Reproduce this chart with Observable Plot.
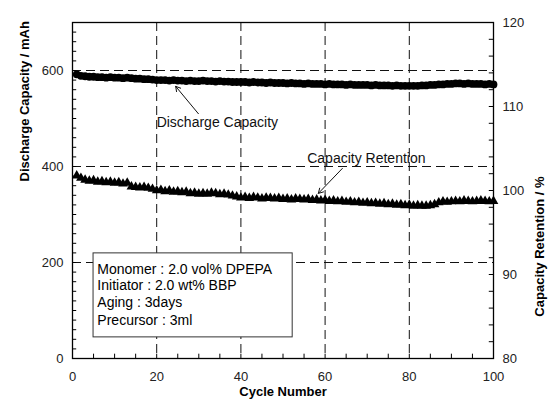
<!DOCTYPE html>
<html><head><meta charset="utf-8">
<script src="https://cdn.jsdelivr.net/npm/d3@7"></script>
<script src="https://cdn.jsdelivr.net/npm/@observablehq/plot@0.6"></script>
<style>
body{margin:0;background:#fff;}
#chart svg{font-family:"Liberation Sans",Arial,sans-serif;}
</style>
</head><body><div id="chart"></div>
<script>
// Cycle numbers 1..100
const cycles = d3.range(1, 101);

// Discharge capacity (mAh), left axis
const discharge = [
  592,589,588,587,587,586,586,585,586,585,
  585,584,585,584,583,583,582,582,581,580,
  580,580,579,580,579,579,578,579,578,578,
  579,578,578,577,578,577,577,576,576,576,
  576,575,576,575,575,574,575,574,574,574,
  573,574,573,573,572,573,572,572,572,571,
  572,571,571,571,570,571,570,570,570,570,
  569,570,569,569,569,568,569,568,568,568,
  568,568,569,569,570,570,571,571,572,572,
  573,573,572,573,572,572,572,571,572,571
];

// Capacity retention (%), right axis
const retention = [
  101.77,101.49,101.26,101.14,101.20,101.03,101.09,100.97,101.03,100.91,
  100.97,100.80,100.91,100.46,100.40,100.34,100.40,100.29,100.17,100.00,
  100.06,99.89,100.00,99.83,99.89,99.77,99.83,99.66,99.71,99.60,
  99.66,99.60,99.71,99.66,99.54,99.60,99.49,99.37,99.26,99.14,
  99.20,99.09,99.20,99.14,99.03,99.14,99.09,99.03,99.09,98.97,
  99.03,98.91,99.03,98.97,98.91,98.97,98.86,98.91,98.80,98.86,
  98.74,98.80,98.69,98.74,98.63,98.69,98.57,98.63,98.51,98.57,
  98.46,98.51,98.40,98.46,98.34,98.40,98.29,98.34,98.23,98.29,
  98.17,98.23,98.17,98.17,98.23,98.34,98.57,98.69,98.63,98.69,
  98.74,98.69,98.80,98.74,98.69,98.74,98.80,98.74,98.69,98.74
];

// Axis ticks
const xLabelTicks = [0, 20, 40, 60, 80, 100];
const xMinorTicks = d3.range(0, 101, 5);
const leftLabelTicks = [0, 200, 400, 600];
const leftMinorTicks = d3.range(0, 701, 20);
const rightLabelTicks = [80, 90, 100, 110, 120];
const rightMinorTicks = d3.range(80, 121, 2);
const xGrid = [20, 40, 60, 80];
const yGrid = [200, 400, 600];

// Info box
const infoLines = [
  "Monomer : 2.0 vol% DPEPA",
  "Initiator : 2.0 wt% BBP",
  "Aging : 3days",
  "Precursor : 3ml"
];
const infoLineY = [185, 152, 117, 79];
const infoBox = {x1: 5.0, x2: 52.3, y1: 44, y2: 219};

// Annotations
const annotations = [
  {label: "Discharge Capacity", tx: 34.4, ty: 492, ax1: 29.9, ay1: 510, ax2: 24.5, ay2: 567},
  {label: "Capacity Retention", tx: 69.8, ty: 417, ax1: 64.1, ay1: 396, ax2: 58.4, ay2: 344}
];

// Secondary scale mapping (right 80..120 <-> left 0..700)
const LMAX = 700, RMIN = 80, RMAX = 120;
const toLeft = v => (v - RMIN) / (RMAX - RMIN) * LMAX;
const fromLeft = v => RMIN + v / LMAX * (RMAX - RMIN);

const dData = cycles.map((c, i) => ({c, v: discharge[i]}));
const rData = cycles.map((c, i) => ({c, v: toLeft(retention[i])}));

const ink = "#111";
const dash = "9,5";

const chart = Plot.plot({
  width: 548, height: 404,
  marginLeft: 72, marginRight: 55, marginTop: 22, marginBottom: 46,
  style: {fontFamily: "'Liberation Sans', Arial, sans-serif", background: "#fff", color: ink},
  x: {domain: [0, 100]},
  y: {domain: [0, 700]},
  marks: [
    Plot.ruleX(xGrid, {stroke: ink, strokeDasharray: dash, strokeWidth: 1}),
    Plot.ruleY(yGrid, {stroke: ink, strokeDasharray: dash, strokeWidth: 1}),
    Plot.rect([infoBox], {x1: "x1", x2: "x2", y1: "y1", y2: "y2", fill: "#fff", stroke: "#333", strokeWidth: 1}),
    Plot.text(infoLines, {x: 5.9, y: (d, i) => infoLineY[i], text: d => d, textAnchor: "start", lineAnchor: "middle", fontSize: 14, fill: "#000"}),
    Plot.dot(rData, {x: "c", y: "v", symbol: "triangle", r: 3.6, fill: "#000", stroke: "none"}),
    Plot.dot(dData, {x: "c", y: "v", symbol: "circle", r: 3.9, fill: "#000", stroke: "none"}),
    Plot.text(annotations, {x: "tx", y: "ty", text: "label", fontSize: 14, textAnchor: "middle", lineAnchor: "middle", fill: "#111"}),
    Plot.arrow(annotations, {x1: "ax1", y1: "ay1", x2: "ax2", y2: "ay2", stroke: "#111", strokeWidth: 1, headLength: 8, bend: 0}),
    Plot.frame({stroke: "#000", strokeWidth: 1.3}),
    // inward ticks
    Plot.ruleY(leftMinorTicks, {x1: 0, x2: 1, stroke: "#000", strokeWidth: 1}),
    Plot.ruleY(rightMinorTicks.map(toLeft), {x1: 99, x2: 100, stroke: "#000", strokeWidth: 1}),
    Plot.ruleX(xMinorTicks, {y1: 0, y2: 9, stroke: "#000", strokeWidth: 1}),
    // tick labels
    Plot.axisX(xLabelTicks, {tickSize: 0, tickPadding: 13, fontSize: 13, label: null, color: "#222"}),
    Plot.axisY(leftLabelTicks, {tickSize: 0, tickPadding: 9, fontSize: 13, label: null, color: "#222"}),
    Plot.axisY(rightLabelTicks.map(toLeft), {anchor: "right", tickSize: 0, tickPadding: 9, fontSize: 13, label: null, color: "#222", tickFormat: v => String(Math.round(fromLeft(v)))}),
    // axis titles
    Plot.text(["Cycle Number"], {frameAnchor: "bottom", dy: 37, text: d => d, fontSize: 13, fontWeight: "bold", fill: "#000"}),
    Plot.text(["Discharge Capacity / mAh"], {frameAnchor: "left", dx: -48, dy: -9, rotate: -90, text: d => d, fontSize: 13, fontWeight: "bold", fill: "#000"}),
    Plot.text(["Capacity Retention / %"], {frameAnchor: "right", dx: 46, dy: -14, rotate: -90, text: d => d, fontSize: 13, fontWeight: "bold", fill: "#000"})
  ]
});
document.getElementById("chart").appendChild(chart);
</script>
</body></html>
